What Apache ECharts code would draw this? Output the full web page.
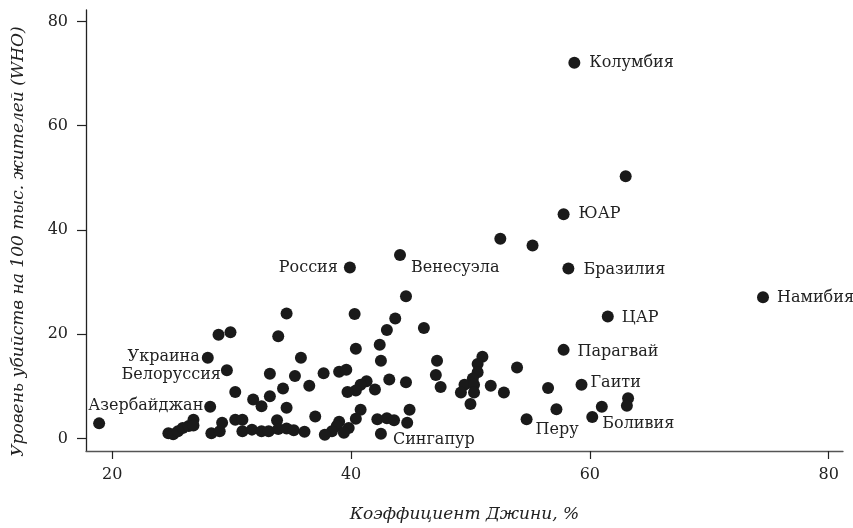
<!DOCTYPE html>
<html>
<head>
<meta charset="utf-8">
<script src="https://cdn.jsdelivr.net/npm/echarts@6/dist/echarts.min.js"></script>
<style>
html,body{margin:0;padding:0;background:#fff;}
#chart{width:853px;height:528px;}
</style>
</head>
<body>
<div id="chart"></div>
<script>
// Labeled countries
const labeledNames = ["Азербайджан","Колумбия","ЮАР","Бразилия","Намибия","ЦАР","Парагвай","Гаити","Боливия","Перу","Россия","Венесуэла","Сингапур","Украина","Белоруссия"];
const labeledGini  = [18.9, 58.7, 57.8, 58.2, 74.5, 61.5, 57.8, 59.3, 60.2, 54.7, 39.9, 44.1, 42.5, 28.0, 29.6];
const labeledRate  = [2.9, 72.1, 43.0, 32.6, 27.1, 23.4, 17.0, 10.3, 4.1, 3.7, 32.8, 35.2, 0.9, 15.5, 13.1];

// Other countries (unlabeled)
const otherGini = [
  63.0, 52.5, 55.2, 53.9, 56.5, 52.8, 63.2, 63.1, 61.0, 57.2,
  44.6, 40.3, 34.6, 43.7, 43.0, 46.1, 28.9, 29.9, 33.9, 42.4,
  40.4, 35.8, 42.5, 47.2, 51.0, 50.6, 50.6, 50.2, 49.5, 50.3,
  49.2, 50.3, 50.0, 51.7, 47.1, 47.5, 37.7, 39.0, 39.6, 33.2,
  35.3, 36.5, 34.3, 30.3, 31.8, 33.2, 32.5, 34.6, 28.2, 43.2,
  44.6, 41.3, 40.8, 40.4, 39.7, 42.0, 40.8, 44.9, 37.0, 39.0,
  38.8, 38.4, 37.8, 39.8, 39.4, 40.4, 42.2, 43.0, 43.6, 44.7,
  24.7, 25.1, 25.5, 25.9, 26.4, 26.8, 26.8, 28.3, 29.0, 29.2,
  30.3, 30.9, 30.9, 31.7, 32.5, 33.1, 33.8, 33.9, 34.6, 35.2,
  36.1
];
const otherRate = [
  50.3, 38.3, 37.0, 13.6, 9.7, 8.8, 7.7, 6.3, 6.1, 5.6,
  27.3, 23.9, 24.0, 23.0, 20.8, 21.2, 19.9, 20.4, 19.6, 18.0,
  17.2, 15.5, 14.9, 14.9, 15.7, 14.3, 12.7, 11.5, 10.3, 10.3,
  8.8, 8.8, 6.6, 10.1, 12.2, 9.9, 12.5, 12.8, 13.2, 12.4,
  12.0, 10.1, 9.6, 8.9, 7.5, 8.1, 6.2, 5.9, 6.1, 11.3,
  10.8, 11.0, 10.3, 9.2, 8.9, 9.4, 5.5, 5.5, 4.2, 3.2,
  2.4, 1.4, 0.7, 2.0, 1.1, 3.8, 3.7, 3.9, 3.5, 3.0,
  1.0, 0.8, 1.4, 2.0, 2.4, 3.6, 2.5, 1.0, 1.4, 3.0,
  3.6, 3.6, 1.4, 1.7, 1.4, 1.4, 3.5, 1.8, 1.9, 1.6,
  1.3
];

const xTicks = [20, 40, 60, 80];
const yTicks = [0, 20, 40, 60, 80];

const FONT = "DejaVu Serif";
const TEXT = "#222";

// label placement relative to the dot centre (style only): side, dx, dy
const labelPlacement = {
  "Азербайджан": ["left",  -11, -18],
  "Колумбия":    ["left",   15,   0],
  "ЮАР":         ["left",   15,   0],
  "Бразилия":    ["left",   15,   1],
  "Намибия":     ["left",   14,   1],
  "ЦАР":         ["left",   14,   1],
  "Парагвай":    ["left",   14,   2],
  "Гаити":       ["left",    9,  -2],
  "Боливия":     ["left",   10,   7],
  "Перу":        ["left",    9,  11],
  "Россия":      ["right", -12,   0],
  "Венесуэла":   ["left",   11,  13],
  "Сингапур":    ["left",   12,   6],
  "Украина":     ["right",  -8,  -1],
  "Белоруссия":  ["right",  -6,   5]
};

const otherData = otherGini.map((g, i) => [g, otherRate[i]]);
const labeledData = labeledNames.map((n, i) => ({
  name: n,
  value: [labeledGini[i], labeledRate[i]]
}));

const chart = echarts.init(document.getElementById('chart'), null, {renderer: 'canvas'});
chart.setOption({
  animation: false,
  backgroundColor: '#fff',
  grid: {left: 86, right: 10, top: 10, bottom: 73, containLabel: false},
  xAxis: {
    type: 'value',
    min: 17.8, max: 81.2,
    name: 'Коэффициент Джини, %',
    nameLocation: 'middle',
    nameGap: 55,
    nameTextStyle: {fontFamily: FONT, fontStyle: 'italic', fontSize: 17, color: TEXT},
    axisLine: {show: true, onZero: false, lineStyle: {color: '#555', width: 1.3}},
    axisTick: {show: true, length: 8, inside: false, customValues: xTicks, lineStyle: {color: '#222', width: 1.2}},
    axisLabel: {customValues: xTicks, margin: 16, fontFamily: FONT, fontSize: 16, color: TEXT},
    splitLine: {show: false}
  },
  yAxis: {
    type: 'value',
    min: -2.4, max: 82.2,
    name: 'Уровень убийств на 100 тыс. жителей (WHO)',
    nameLocation: 'middle',
    nameGap: 59,
    nameRotate: 90,
    nameTextStyle: {fontFamily: FONT, fontStyle: 'italic', fontSize: 17, color: TEXT, padding: [0, 22, 0, 0]},
    axisLine: {show: true, onZero: false, lineStyle: {color: '#222', width: 1.3}},
    axisTick: {show: true, length: 9, customValues: yTicks, lineStyle: {color: '#222', width: 1.2}},
    axisLabel: {customValues: yTicks, margin: 18, fontFamily: FONT, fontSize: 16, color: TEXT},
    splitLine: {show: false}
  },
  series: [
    {
      type: 'scatter',
      symbol: 'circle',
      symbolSize: 12,
      itemStyle: {color: '#1a1a1a', opacity: 1},
      data: otherData
    },
    {
      type: 'scatter',
      symbol: 'circle',
      symbolSize: 12,
      itemStyle: {color: '#1a1a1a', opacity: 1},
      data: labeledData,
      label: {
        show: true,
        formatter: '{b}',
        position: 'right',
        fontFamily: FONT,
        fontSize: 16,
        color: TEXT
      },
      labelLayout: function (params) {
        const name = labeledNames[params.dataIndex];
        const p = labelPlacement[name];
        const cx = params.rect.x + params.rect.width / 2;
        const cy = params.rect.y + params.rect.height / 2;
        return {
          x: cx + p[1],
          y: cy + p[2],
          align: p[0],
          verticalAlign: 'middle',
          hideOverlap: false
        };
      }
    }
  ]
});
</script>
</body>
</html>
